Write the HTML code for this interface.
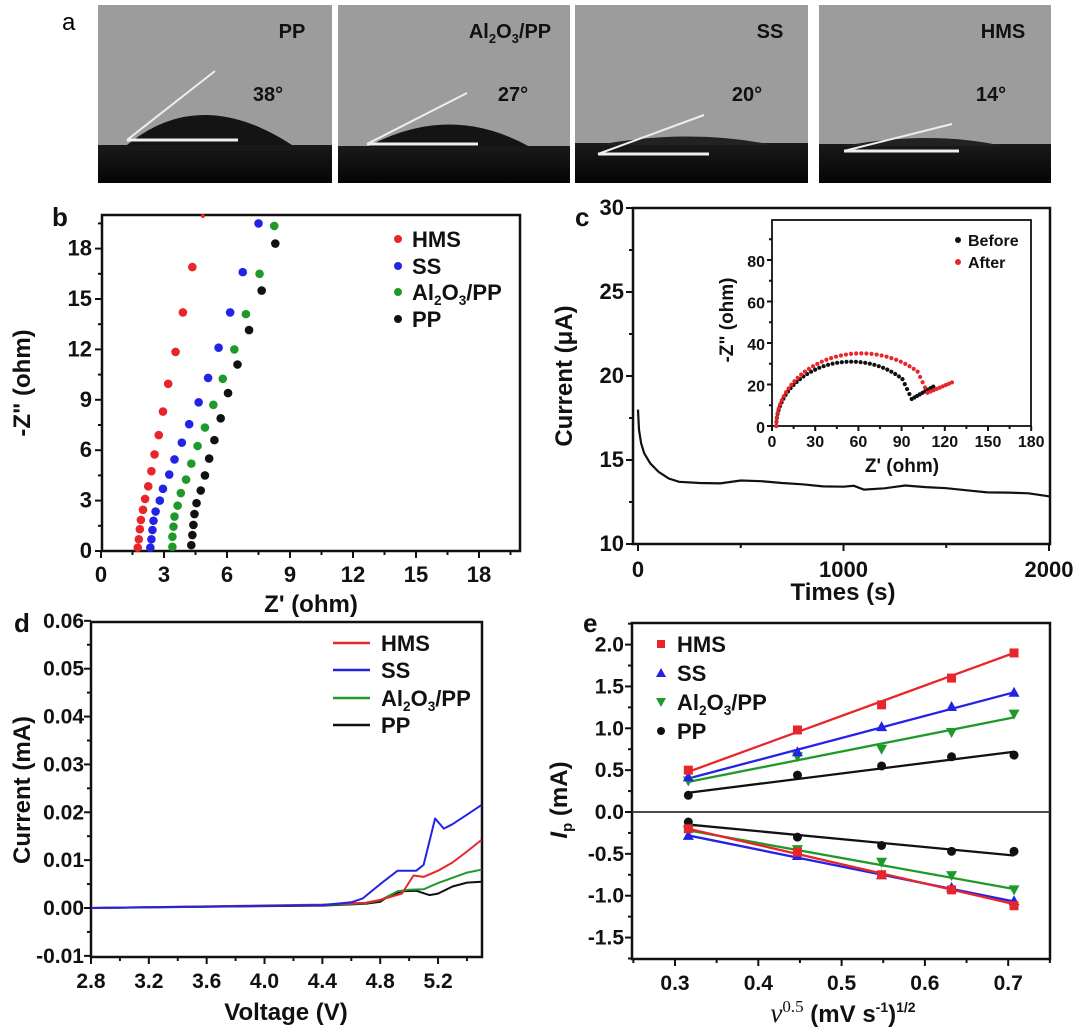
<!DOCTYPE html>
<html><head><meta charset="utf-8">
<style>
html,body{margin:0;padding:0;background:#fff;}
svg{display:block;font-family:"Liberation Sans",Arial,sans-serif;font-weight:bold;}
</style></head>
<body>
<svg id="s" width="1080" height="1032" viewBox="0 0 1080 1032" xmlns="http://www.w3.org/2000/svg">
<defs>
<linearGradient id="fl" x1="0" y1="0" x2="0" y2="1"><stop offset="0" stop-color="#1a1a1a"/><stop offset="1" stop-color="#050505"/></linearGradient>
</defs>
<text x="62" y="30" font-size="24" font-weight="normal">a</text>
<g>
<rect x="98" y="5" width="234" height="178" fill="#9c9c9c"/>
<rect x="98" y="145" width="234" height="38" fill="url(#fl)"/>
<path d="M127 145 Q200 85 292 145 Z" fill="#141414"/>
<line x1="127" y1="140" x2="215" y2="71" stroke="#eee" stroke-width="2"/>
<line x1="127" y1="140" x2="238" y2="140" stroke="#eee" stroke-width="3"/>
<text x="292" y="38" font-size="20" text-anchor="middle" fill="#111">PP</text>
<text x="268" y="101" font-size="20" text-anchor="middle" fill="#111">38°</text>

<rect x="338" y="5" width="232" height="178" fill="#9c9c9c"/>
<rect x="338" y="146" width="232" height="37" fill="url(#fl)"/>
<path d="M367 147 Q450 102 530 147 Z" fill="#141414"/>
<line x1="367" y1="144" x2="467" y2="93" stroke="#eee" stroke-width="2"/>
<line x1="367" y1="144" x2="478" y2="144" stroke="#eee" stroke-width="3"/>
<text x="510" y="38" font-size="20" text-anchor="middle" fill="#111">Al<tspan font-size="13" dy="5">2</tspan><tspan dy="-5">O</tspan><tspan font-size="13" dy="5">3</tspan><tspan dy="-5">/PP</tspan></text>
<text x="513" y="101" font-size="20" text-anchor="middle" fill="#111">27°</text>

<rect x="575" y="5" width="233" height="178" fill="#9c9c9c"/>
<rect x="575" y="143" width="233" height="40" fill="url(#fl)"/>
<path d="M598 145 Q690 128 773 145 Z" fill="#222"/>
<line x1="598" y1="154" x2="704" y2="115" stroke="#eee" stroke-width="2"/>
<line x1="598" y1="154" x2="709" y2="154" stroke="#eee" stroke-width="3"/>
<text x="770" y="38" font-size="20" text-anchor="middle" fill="#111">SS</text>
<text x="747" y="101" font-size="20" text-anchor="middle" fill="#111">20°</text>

<rect x="819" y="5" width="232" height="178" fill="#9c9c9c"/>
<rect x="819" y="144" width="232" height="39" fill="url(#fl)"/>
<path d="M844 146 Q930 130 1003 146 Z" fill="#222"/>
<line x1="844" y1="151" x2="952" y2="124" stroke="#eee" stroke-width="2"/>
<line x1="844" y1="151" x2="959" y2="151" stroke="#eee" stroke-width="3"/>
<text x="1003" y="38" font-size="20" text-anchor="middle" fill="#111">HMS</text>
<text x="991" y="101" font-size="20" text-anchor="middle" fill="#111">14°</text>
</g>
<g id="dyn"></g>
</svg>
<script>
var NS="http://www.w3.org/2000/svg",g=document.getElementById("dyn");
function el(t,a,txt){var e=document.createElementNS(NS,t);for(var k in a)e.setAttribute(k,a[k]);if(txt!==undefined)e.textContent=txt;g.appendChild(e);return e;}
function txt(x,y,s,fs,anc,extra){var a={x:x,y:y,"font-size":fs,"text-anchor":anc||"middle",fill:"#111"};for(var k in extra)a[k]=extra[k];return el("text",a,s);}
function axes(L,R,T,B){el("rect",{x:L,y:T,width:R-L,height:B-T,fill:"none",stroke:"#111","stroke-width":2.5});}
function xt(mx,B,label,len,ly,fs){el("line",{x1:mx,y1:B,x2:mx,y2:B+len,stroke:"#111","stroke-width":2});if(label!==null)txt(mx,ly,label,fs||21);}
function yt(L,my,label,len,lx,fs){el("line",{x1:L,y1:my,x2:L-len,y2:my,stroke:"#111","stroke-width":2});if(label!==null)txt(lx,my+7,label,fs||21,"end");}
function alsub(t,x,y,fs,anc){var e=txt(x,y,"",fs,anc);e.innerHTML='Al<tspan font-size="'+(fs*0.62)+'" dy="5">2</tspan><tspan dy="-5">O</tspan><tspan font-size="'+(fs*0.62)+'" dy="5">3</tspan><tspan dy="-5">/PP</tspan>';}

/* ---------- panel b ---------- */
(function(){
var L=102,R=520,T=215,B=551,X=function(v){return 101+v*21;},Y=function(v){return 551-v*16.8;};
txt(52,226,"b",26,"start");
for(var v=0;v<=19.5;v+=1.5){var lab=(v%3==0)?String(v):null;xt(X(v),B,lab,lab?7:4,582,22);yt(L,Y(v),lab,lab?7:4,92,22);}
axes(L,R,T,B);
txt(311,612,"Z' (ohm)",24);
txt(0,0,'-Z" (ohm)',24,"middle",{transform:"translate(30,383) rotate(-90)"});
var S={r:[[1.75,.2],[1.8,.7],[1.85,1.3],[1.9,1.85],[2,2.45],[2.1,3.1],[2.25,3.85],[2.4,4.75],[2.55,5.75],[2.75,6.9],[2.95,8.3],[3.2,9.95],[3.55,11.85],[3.9,14.2],[4.35,16.9]],
b:[[2.35,.2],[2.4,.7],[2.45,1.25],[2.5,1.8],[2.6,2.35],[2.8,3],[2.95,3.7],[3.25,4.55],[3.5,5.45],[3.85,6.45],[4.2,7.55],[4.65,8.85],[5.1,10.3],[5.6,12.1],[6.15,14.2],[6.75,16.6],[7.5,19.5]],
g:[[3.4,.25],[3.4,.85],[3.45,1.45],[3.5,2.05],[3.65,2.7],[3.8,3.45],[4.05,4.25],[4.3,5.2],[4.6,6.25],[4.95,7.35],[5.35,8.7],[5.8,10.25],[6.35,12],[6.9,14.1],[7.55,16.5],[8.25,19.35]],
k:[[4.3,.35],[4.35,.95],[4.4,1.55],[4.45,2.2],[4.55,2.85],[4.75,3.6],[4.95,4.5],[5.15,5.5],[5.4,6.6],[5.7,7.9],[6.05,9.4],[6.5,11.1],[7.05,13.15],[7.65,15.5],[8.3,18.3]]};
var C={r:"#e8262a",b:"#2323e6",g:"#1e9a2a",k:"#111"};
for(var k in S)S[k].forEach(function(p){el("circle",{cx:X(p[0]),cy:Y(p[1]),r:4.3,fill:C[k]});});
el("circle",{cx:X(4.85),cy:216,r:2,fill:C.r});
var ly=[239,266,292,319],nm=["HMS","SS",null,"PP"],ck=["r","b","g","k"];
for(var i=0;i<4;i++){el("circle",{cx:398,cy:ly[i],r:4,fill:C[ck[i]]});if(nm[i])txt(412,ly[i]+8,nm[i],22,"start");else alsub("",412,ly[i]+8,22,"start");}
})();

/* ---------- panel c ---------- */
(function(){
var L=633,R=1050,T=208,B=544,X=function(v){return 638+v*0.2055;},Y=function(v){return 544-(v-10)*16.8;};
txt(575,226,"c",26,"start");
for(var v=10;v<=30;v+=2.5){var lab=(v%5==0)?String(v):null;yt(L,Y(v),lab,lab?7:4,624,22);}
for(var v=0;v<=2000;v+=500){var lab=(v%1000==0)?String(v):null;xt(X(v),B,lab,lab?7:4,577,22);}
axes(L,R,T,B);
txt(843,600,"Times (s)",24);
txt(0,0,"Current (μA)",24,"middle",{transform:"translate(572,376) rotate(-90)"});
var pts=[[0,18],[5,16.8],[15,16],[30,15.4],[60,14.8],[100,14.3],[150,13.9],[200,13.7],[300,13.65],[400,13.6],[500,13.75],[600,13.7],[700,13.6],[800,13.55],[900,13.45],[1000,13.45],[1050,13.5],[1100,13.25],[1200,13.3],[1300,13.45],[1400,13.35],[1500,13.3],[1600,13.2],[1700,13.1],[1800,13.1],[1900,13.05],[2000,12.85]];
var d="";for(var i=0;i<pts.length;i++){var jit=(i>7)?(Math.sin(i*7)*0.04):0;d+=(i?"L":"M")+X(pts[i][0]).toFixed(1)+" "+Y(pts[i][1]+jit).toFixed(1);}
el("path",{d:d,fill:"none",stroke:"#111","stroke-width":2.2});
var iL=772,iR=1031,iT=220,iB=426,ix=function(v){return 772+v*1.44;},iy=function(v){return 426-v*2.075;};
for(var v=0;v<=95;v+=10){var lab=(v%20==0)?String(v):null;yt(iL,iy(v),lab,lab?5:3,765,16);}
for(var v=0;v<=180;v+=15){var lab=(v%30==0)?String(v):null;xt(ix(v),iB,lab,lab?5:3,447,16);}
el("rect",{x:iL,y:iT,width:iR-iL,height:iB-iT,fill:"none",stroke:"#111","stroke-width":1.8});
txt(902,472,"Z' (ohm)",19);
txt(0,0,'-Z" (ohm)',19,"middle",{transform:"translate(733,320) rotate(-90)"});
function arc(x0,xpk,h,xmin,ymin,xend,yend,col,n){
  var r=xpk-x0,pts=[];
  for(var i=0;i<=n;i++){var t=Math.PI-Math.PI*i/n;var x=xpk+r*Math.cos(t),y=h*Math.sin(t);if(x>xmin-6)break;pts.push([x,y]);}
  var last=pts[pts.length-1];
  for(var j=1;j<=4;j++){pts.push([last[0]+(xmin-last[0])*j/4,last[1]+(ymin-last[1])*j/4]);}
  var m=8;for(var j=1;j<=m;j++){pts.push([xmin+(xend-xmin)*j/m,ymin+(yend-ymin)*j/m]);}
  pts.forEach(function(p){el("circle",{cx:ix(p[0]),cy:iy(p[1]),r:2.1,fill:col});});
}
arc(3,55,31,97,13,112,19,"#111",50);
arc(3,62,35,108,16,125,21,"#e8262a",52);
el("circle",{cx:958,cy:240,r:3,fill:"#111"});txt(968,246,"Before",16,"start");
el("circle",{cx:958,cy:262,r:3,fill:"#e8262a"});txt(968,268,"After",16,"start");
})();

/* ---------- panel d ---------- */
(function(){
var L=91,R=482,T=622,B=957,X=function(v){return 91+(v-2.8)*144.6;},Y=function(v){return 908-v*4786;};
txt(14,632,"d",26,"start");
for(var v=-0.01;v<=0.0601;v+=0.005){var r=Math.round(v*1000);var lab=(r%10==0)?(v/1).toFixed(2):null;yt(L,Y(v),lab,lab?7:4,84,21);}
for(var v=2.8;v<=5.5;v+=0.2){var r=Math.round(v*10);var lab=(r%4==0)?v.toFixed(1):null;xt(X(v),B,lab,lab?7:4,988,21);}
axes(L,R,T,B);
txt(286,1020,"Voltage (V)",24);
txt(0,0,"Current (mA)",24,"middle",{transform:"translate(30,790) rotate(-90)"});
var D={
k:[[2.8,0],[4.4,.0005],[4.7,.0009],[4.8,.0013],[4.86,.0025],[4.95,.0035],[5.05,.0036],[5.14,.0027],[5.2,.003],[5.3,.0045],[5.4,.0053],[5.5,.0055]],
g:[[2.8,0],[4.4,.0006],[4.7,.001],[4.8,.0016],[4.92,.0035],[5.0,.0038],[5.1,.0039],[5.2,.0052],[5.3,.0063],[5.4,.0074],[5.5,.008]],
r:[[2.8,0],[4.4,.0007],[4.7,.0011],[4.8,.0017],[4.95,.003],[5.03,.0068],[5.1,.0065],[5.2,.0078],[5.3,.0095],[5.4,.0118],[5.5,.0142]],
b:[[2.8,0],[4.4,.0006],[4.6,.0012],[4.68,.002],[4.8,.005],[4.92,.0078],[5.05,.0078],[5.1,.009],[5.18,.0187],[5.24,.0166],[5.3,.0175],[5.4,.0195],[5.5,.0215]]};
var C={r:"#e8262a",b:"#2323e6",g:"#1e9a2a",k:"#111"};
["k","g","r","b"].forEach(function(k){var d="";D[k].forEach(function(p,i){d+=(i?"L":"M")+X(p[0]).toFixed(1)+" "+Y(p[1]).toFixed(1);});el("path",{d:d,fill:"none",stroke:C[k],"stroke-width":2,"stroke-linejoin":"round"});});
var ly=[643,670,698,725],ck=["r","b","g","k"],nm=["HMS","SS",null,"PP"];
for(var i=0;i<4;i++){el("line",{x1:333,y1:ly[i],x2:370,y2:ly[i],stroke:C[ck[i]],"stroke-width":2.5});if(nm[i])txt(381,ly[i]+8,nm[i],22,"start");else alsub("",381,ly[i]+8,22,"start");}
})();

/* ---------- panel e ---------- */
(function(){
var L=632,R=1050,T=623,B=959,X=function(v){return 675+(v-0.3)*833;},Y=function(v){return 812-v*83.7;};
txt(583,632,"e",26,"start");
for(var v=-1.75;v<=2.26;v+=0.25){var r=Math.round(v*100);var lab=(r%50==0)?(v).toFixed(1):null;if(lab==="-0.0")lab="0.0";yt(L,Y(v),lab,lab?7:4,624,21);}
for(var v=0.25;v<=0.751;v+=0.05){var r=Math.round(v*100);var lab=(r%10==0)?v.toFixed(1):null;xt(X(v),B,lab,lab?7:4,990,21);}
axes(L,R,T,B);
el("line",{x1:L,y1:Y(0),x2:R,y2:Y(0),stroke:"#333","stroke-width":1.8});
var t=txt(843,1022,"",24);t.innerHTML='<tspan font-family="Liberation Serif,serif" font-style="italic" font-weight="normal" font-size="27">v</tspan><tspan font-family="Liberation Serif,serif" font-weight="normal" font-size="17" dy="-10">0.5</tspan><tspan dy="10"> (mV s</tspan><tspan font-size="14" dy="-10">-1</tspan><tspan dy="10">)</tspan><tspan font-size="14" dy="-10">1/2</tspan>';
var ty=txt(0,0,"",24,"middle",{transform:"translate(567,800) rotate(-90)"});ty.innerHTML='<tspan font-style="italic">I</tspan><tspan font-size="15" dy="5">p</tspan><tspan dy="-5"> (mA)</tspan>';
var xs=[0.316,0.447,0.548,0.632,0.707];
var C={r:"#e8262a",b:"#2323e6",g:"#1e9a2a",k:"#111"};
var P={r:[[.5,.98,1.28,1.6,1.9],[-.2,-.48,-.75,-.93,-1.12]],b:[[.42,.72,1.02,1.26,1.43],[-.28,-.52,-.75,-.9,-1.06]],g:[[.37,.66,.75,.95,1.17],[-.22,-.45,-.6,-.76,-.93]],k:[[.2,.44,.55,.66,.68],[-.12,-.3,-.4,-.47,-.47]]};
var F={r:[[.48,1.9],[-.2,-1.1]],b:[[.4,1.43],[-.28,-1.07]],g:[[.36,1.13],[-.22,-.92]],k:[[.23,.72],[-.15,-.52]]};
function mk(k,x,y,s){if(k=="r")el("rect",{x:x-s,y:y-s,width:2*s,height:2*s,fill:C.r});else if(k=="b")el("path",{d:"M"+x+" "+(y-s-1)+"L"+(x+s+1)+" "+(y+s)+"L"+(x-s-1)+" "+(y+s)+"Z",fill:C.b});else if(k=="g")el("path",{d:"M"+x+" "+(y+s+1)+"L"+(x+s+1)+" "+(y-s)+"L"+(x-s-1)+" "+(y-s)+"Z",fill:C.g});else el("circle",{cx:x,cy:y,r:s,fill:C.k});}
["k","g","b","r"].forEach(function(k){for(var h=0;h<2;h++){el("line",{x1:X(0.316),y1:Y(F[k][h][0]),x2:X(0.707),y2:Y(F[k][h][1]),stroke:C[k],"stroke-width":2.3});}});
["k","g","b","r"].forEach(function(k){for(var h=0;h<2;h++)for(var i=0;i<5;i++)mk(k,X(xs[i]),Y(P[k][h][i]),4.5);});
var ly=[644,673,702,731],ck=["r","b","g","k"],nm=["HMS","SS",null,"PP"];
for(var i=0;i<4;i++){mk(ck[i],661,ly[i],4);if(nm[i])txt(677,ly[i]+8,nm[i],22,"start");else alsub("",677,ly[i]+8,22,"start");}
})();
</script>
</body></html>
